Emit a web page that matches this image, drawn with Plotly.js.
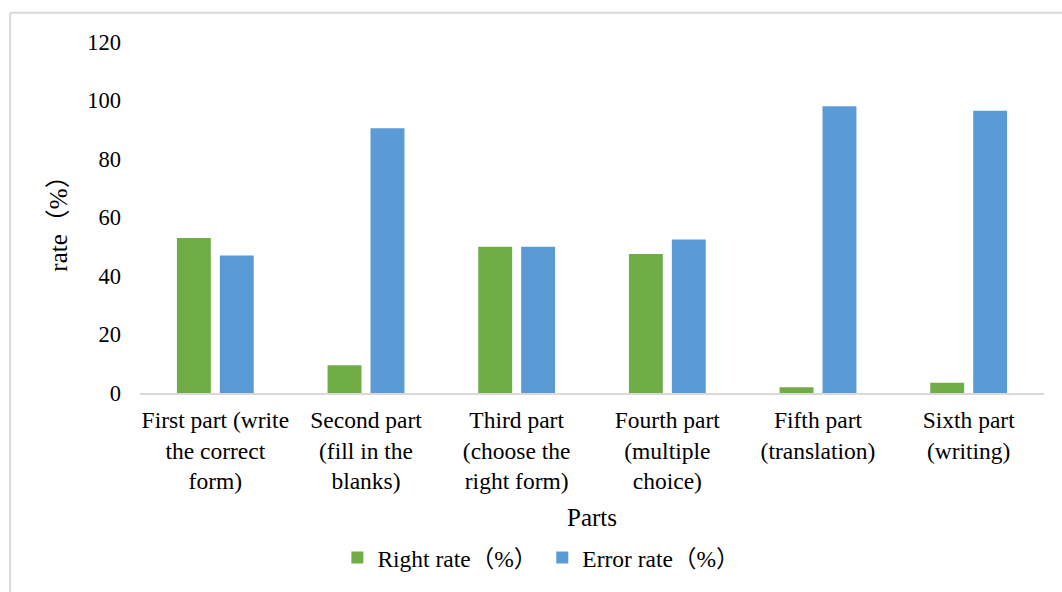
<!DOCTYPE html>
<html>
<head>
<meta charset="utf-8">
<script src="https://cdn.plot.ly/plotly-3.0.1.min.js"></script>
<style>
html,body{margin:0;padding:0;background:#fff;}
#chart{width:1062px;height:592px;}
</style>
</head>
<body>
<div id="chart"></div>
<script>
var categories = [
  "First part (write<br>the correct<br>form)",
  "Second part<br>(fill in the<br>blanks)",
  "Third part<br>(choose the<br>right form)",
  "Fourth part<br>(multiple<br>choice)",
  "Fifth part<br>(translation)",
  "Sixth part<br>(writing)"
];
var rightRate = [53, 9.5, 50, 47.5, 2, 3.5];
var errorRate = [47, 90.5, 50, 52.5, 98, 96.5];
var yTicks = [0, 20, 40, 60, 80, 100, 120];

var FONT = "'Liberation Serif', 'Times New Roman', 'Noto Sans CJK SC', serif";

var traces = [
  {type: "bar", name: "Right rate（%）", x: categories, y: rightRate,
   marker: {color: "#70ad47"}},
  {type: "bar", name: "Error rate（%）", x: categories, y: errorRate,
   marker: {color: "#5b9bd5"}}
];

var L = 139.5, R = 17.5, T = 42, B = 196;
var pw = 1062 - L - R, ph = 592 - T - B;

var layout = {
  width: 1062, height: 592,
  margin: {l: L, r: R, t: T, b: B, pad: 0},
  paper_bgcolor: "#fff", plot_bgcolor: "#fff",
  font: {family: FONT, size: 23.5, color: "#000"},
  barmode: "group", bargap: 0.43, bargroupgap: 0.21,
  showlegend: true,
  legend: {orientation: "h", x: 0.444, xanchor: "center", y: -0.469, yanchor: "middle",
           font: {family: FONT, size: 23.5, color: "#000"}, itemwidth: 30, traceorder: "normal"},
  xaxis: {
    showgrid: false, zeroline: false, showline: true, linecolor: "#d9d9d9", linewidth: 2,
    ticks: "", ticklabelstandoff: 5,
    tickfont: {family: FONT, size: 23.5, color: "#000"},
    title: {text: "Parts", font: {family: FONT, size: 25, color: "#000"}, standoff: 15}
  },
  yaxis: {
    range: [0, 120], tickvals: yTicks, ticktext: yTicks.map(String),
    showgrid: false, zeroline: false, showline: false, ticks: "",
    ticklabelstandoff: 18,
    tickfont: {family: FONT, size: 22.5, color: "#000"},
    title: {text: "rate（%）", font: {family: FONT, size: 25, color: "#000"}, standoff: 12}
  },
  shapes: [
    {type: "line", xref: "paper", yref: "paper",
     x0: (9.5 - L) / pw, x1: (1070 - L) / pw,
     y0: (592 - 12.5 - B) / ph, y1: (592 - 12.5 - B) / ph,
     line: {color: "#d9d9d9", width: 2}},
    {type: "line", xref: "paper", yref: "paper",
     x0: (9.5 - L) / pw, x1: (9.5 - L) / pw,
     y0: (592 - 12.5 - B) / ph, y1: (-10 - B) / ph,
     line: {color: "#d9d9d9", width: 2}}
  ]
};

Plotly.newPlot("chart", traces, layout, {displayModeBar: false, staticPlot: true});
</script>
</body>
</html>
